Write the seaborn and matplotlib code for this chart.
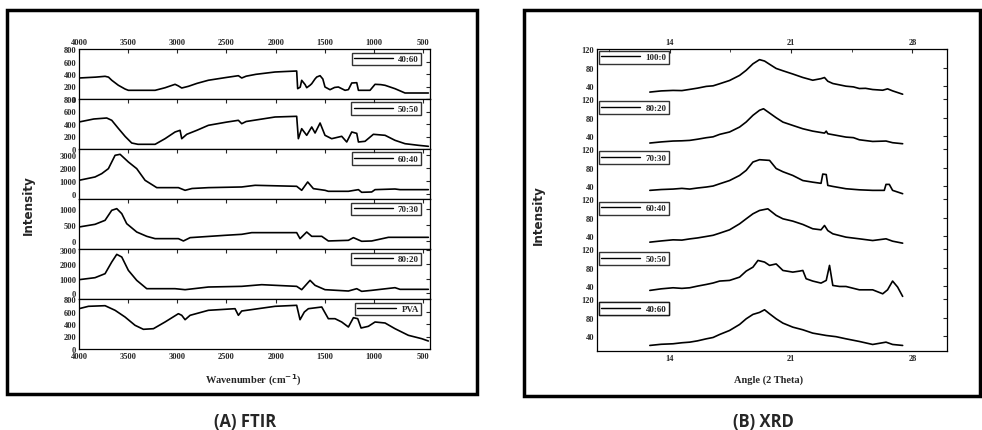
import matplotlib
matplotlib.use("Agg")
import matplotlib.pyplot as plt
import seaborn as sns
from matplotlib.patches import Rectangle
from matplotlib.lines import Line2D
from matplotlib.ticker import MultipleLocator, FixedLocator

sns.set_style("white")
plt.rcParams['font.family'] = ['Liberation Serif', 'DejaVu Serif']
plt.rcParams['font.weight'] = 'bold'

# ---- FTIR data (wavenumber cm-1, intensity) ----
ftir_names = ['40:60', '50:50', '60:40', '70:30', '80:20', 'PVA']

wn_4060 = [4000, 3830, 3735, 3700, 3667, 3600, 3532, 3498, 3226, 3125, 3023, 2990, 2955, 2887, 2800, 2684,
           2500, 2379, 2345, 2300, 2200, 2006, 1900, 1786, 1776, 1750, 1735, 1700, 1684, 1650, 1633, 1600,
           1582, 1548, 1520, 1498, 1447, 1400, 1362, 1294, 1260, 1226, 1175, 1158, 1040, 989, 930, 887,
           786, 684, 447]
int_4060 = [336, 350, 363, 350, 300, 220, 160, 139, 139, 180, 235, 210, 176, 203, 250, 300,
            345, 373, 336, 365, 395, 432, 440, 448, 165, 190, 299, 230, 181, 220, 245, 320,
            352, 373, 320, 192, 149, 185, 192, 139, 150, 256, 261, 139, 139, 235, 230, 219,
            165, 96, 96]

wn_5050 = [4000, 3850, 3718, 3667, 3600, 3530, 3464, 3400, 3226, 3125, 3023, 2972, 2955, 2904, 2800, 2684,
           2500, 2379, 2345, 2300, 2006, 1786, 1769, 1735, 1684, 1633, 1599, 1548, 1498, 1430, 1328, 1277,
           1226, 1175, 1158, 1091, 1006, 887, 786, 684, 548, 447]
int_5050 = [432, 480, 496, 459, 330, 200, 96, 75, 75, 165, 272, 299, 165, 235, 300, 379,
            430, 459, 405, 440, 512, 523, 165, 325, 219, 352, 256, 416, 219, 165, 203, 112,
            272, 250, 112, 123, 235, 219, 139, 85, 59, 43]

wn_6040 = [4000, 3837, 3769, 3701, 3633, 3582, 3498, 3413, 3328, 3209, 2989, 2921, 2850, 2684, 2345, 2209,
           1786, 1735, 1674, 1616, 1498, 1464, 1260, 1158, 1125, 1023, 989, 786, 735, 447]
int_6040 = [1058, 1318, 1578, 1968, 3008, 3086, 2488, 1968, 1058, 486, 486, 278, 420, 486, 538, 668,
            590, 278, 928, 408, 278, 200, 200, 330, 122, 148, 330, 380, 330, 330]

wn_7030 = [4000, 3837, 3735, 3667, 3616, 3565, 3515, 3413, 3311, 3226, 2989, 2938, 2870, 2515, 2345, 2243,
           1786, 1752, 1684, 1633, 1531, 1464, 1260, 1209, 1125, 1023, 853, 447]
int_7030 = [432, 515, 639, 949, 1001, 846, 536, 277, 143, 71, 71, -1, 102, 174, 205, 257,
            257, 71, 277, 143, 143, -1, 19, 102, -11, -1, 112, 112]

wn_8020 = [4000, 3837, 3735, 3667, 3616, 3565, 3498, 3413, 3311, 3023, 2921, 2684, 2345, 2142, 1786, 1735,
           1650, 1599, 1498, 1260, 1175, 1125, 1023, 786, 735, 447]
int_8020 = [933, 1071, 1347, 2152, 2681, 2497, 1577, 887, 312, 312, 243, 427, 473, 588, 473, 243,
            887, 542, 243, 151, 312, 128, 197, 381, 266, 266]

wn_pva = [4000, 3904, 3735, 3633, 3532, 3430, 3345, 3243, 3125, 2989, 2955, 2921, 2870, 2684, 2413, 2379,
          2345, 2006, 1786, 1752, 1708, 1667, 1531, 1464, 1396, 1328, 1260, 1209, 1165, 1131, 1057, 989,
          887, 786, 650, 514, 447]
int_pva = [645, 683, 693, 619, 512, 379, 315, 325, 432, 565, 539, 469, 539, 619, 645, 539,
           608, 683, 699, 469, 592, 645, 672, 485, 485, 432, 352, 501, 485, 336, 363, 432,
           416, 325, 219, 165, 128]

ftir_x = [wn_4060, wn_5050, wn_6040, wn_7030, wn_8020, wn_pva]
ftir_y = [int_4060, int_5050, int_6040, int_7030, int_8020, int_pva]
ftir_ylims = [(0, 800), (0, 800), (-400, 3500), (-250, 1300), (-400, 3050), (0, 800)]
ftir_yticks = [[0, 200, 400, 600, 800], [0, 200, 400, 600, 800], [0, 1000, 2000, 3000],
               [0, 500, 1000], [0, 1000, 2000, 3000], [0, 200, 400, 600, 800]]

# ---- XRD data (2 theta, intensity), top to bottom ----
xrd_names = ['100:0', '80:20', '70:30', '60:40', '50:50', '40:60']

th_1000 = [12.85, 13.5, 14.19, 14.7, 15.15, 15.6, 16.11, 16.5, 16.88, 17.45, 18.03, 18.41, 18.80, 19.18, 19.47,
           19.76, 20.14, 20.53, 21.10, 21.68, 22.25, 22.73, 22.93, 23.12, 23.41, 24.17, 24.6, 24.94, 25.3,
           25.71, 26.29, 26.57, 26.86, 27.44]
i_1000 = [27, 29.5, 30.6, 30.2, 32.8, 35.5, 39.3, 40.5, 45, 52, 63, 74, 88, 97, 94,
          87, 78, 73, 66, 58.5, 52.6, 56, 58.4, 50.4, 45.5, 39.7, 38.2, 34.7, 35.1,
          32.5, 31, 34, 29.6, 22.4]

th_8020 = [12.85, 13.5, 14.19, 14.7, 15.15, 15.6, 16.11, 16.5, 16.88, 17.45, 18.03, 18.41, 18.80, 19.18, 19.41,
           19.76, 20.14, 20.53, 21.10, 21.68, 22.25, 22.93, 23.03, 23.12, 24.17, 24.6, 24.94, 25.71, 26.48,
           26.86, 27.44]
i_8020 = [25, 27.4, 29.3, 29.8, 30.7, 33.2, 36.5, 38.4, 43.7, 48.8, 59.5, 70.4, 84.8, 95.7, 99,
          89.7, 79.6, 70.2, 63, 55.8, 50.7, 46.4, 50.7, 45, 37.8, 36.6, 32, 28.4, 29.3,
          25.7, 23.5]

th_7030 = [12.85, 13.5, 14.19, 14.7, 15.15, 15.6, 16.11, 16.5, 16.88, 17.45, 18.03, 18.41, 18.80, 19.18, 19.76,
           20.14, 20.53, 21.10, 21.68, 22.25, 22.73, 22.83, 23.03, 23.12, 23.41, 24.17, 24.94, 25.71,
           26.38, 26.48, 26.67, 26.86, 27.44]
i_7030 = [30.8, 32.6, 33.6, 35.1, 33.6, 35.9, 38, 40.2, 45, 52, 63, 74, 92, 97, 95.5,
          78, 71, 63, 52, 48.5, 46, 66, 65, 41.5, 39.3, 34.3, 32, 30.8,
          30.8, 43.7, 43.7, 30.8, 23.6]

th_6040 = [12.85, 13.5, 14.19, 14.7, 15.15, 15.6, 16.11, 16.5, 16.88, 17.45, 18.03, 18.41, 18.80, 19.18, 19.66,
           20.14, 20.53, 21.10, 21.68, 22.25, 22.73, 22.93, 23.12, 23.41, 24.17, 24.94, 25.71, 26.48,
           26.86, 27.44]
i_6040 = [27, 29.6, 32, 31.4, 34, 36.1, 39.3, 41.8, 46.4, 53.6, 66.6, 77.4, 88.2, 95.4, 99,
          84.8, 77.4, 72.4, 65.2, 55.9, 53.6, 63, 52, 45, 37.8, 34.2, 30.5, 34.2,
          29.1, 24.8]

th_5050 = [12.85, 13.5, 14.19, 14.7, 15.15, 15.6, 16.11, 16.5, 16.88, 17.45, 18.03, 18.41, 18.80, 19.09, 19.47,
           19.76, 20.14, 20.53, 21.10, 21.49, 21.68, 21.87, 22.25, 22.73, 23.03, 23.22, 23.41, 23.80,
           24.17, 24.94, 25.71, 26.29, 26.57, 26.86, 27.15, 27.44]
i_5050 = [30.8, 34.2, 36.5, 35.2, 36.5, 40.1, 43.7, 46.8, 51, 52.4, 59.5, 72.5, 81, 95.5, 92,
          84.8, 88, 73.9, 70.3, 72.5, 73.9, 56, 51, 46.6, 52.4, 84.8, 41.5, 39.3,
          39.3, 32.1, 32.1, 23.5, 32.1, 51, 38, 17.9]

th_4060 = [12.85, 13.5, 14.19, 14.7, 15.15, 15.6, 16.11, 16.5, 16.88, 17.45, 18.03, 18.41, 18.80, 19.18, 19.47,
           19.76, 20.14, 20.53, 21.10, 21.68, 22.25, 23.03, 23.6, 24.17, 24.94, 25.71, 26.48, 26.86, 27.44]
i_4060 = [20, 22.5, 23.6, 25.8, 27.1, 29.9, 34.3, 37.2, 43.7, 52.3, 65.3, 77.5, 87, 91.3, 97,
          88.3, 77.5, 68.2, 59.5, 53.8, 46.6, 41.5, 38.9, 34.3, 28.6, 22.1, 27.1, 22.1, 20]

xrd_x = [th_1000, th_8020, th_7030, th_6040, th_5050, th_4060]
xrd_y = [i_1000, i_8020, i_7030, i_6040, i_5050, i_4060]
xrd_step = 108  # vertical offset between stacked patterns
xrd_tick_vals = [40, 80, 120]

W, H = 982, 431
fig = plt.figure(figsize=(W / 100, H / 100), dpi=100)


def fx(px):
    return px / W


def fy(py):
    return 1 - py / H


tick_kw = dict(direction='in', length=3, width=0.8, labelsize=6, top=True, right=True, pad=2)
leg_kw = dict(frameon=True, fancybox=False, edgecolor='black', fontsize=6.5, handlelength=4.3,
              borderpad=0.25, handletextpad=0.6, borderaxespad=0)
lw = 1.2

# ---- Panel A: FTIR stacked subplots ----
for i in range(6):
    ax = fig.add_axes([fx(79), fy(100 + 50 * i), fx(430) - fx(79), 50 / H])
    sns.lineplot(x=ftir_x[i], y=ftir_y[i], ax=ax, color='black', linewidth=lw,
                 sort=False, estimator=None)
    ax.set_xlim(4000, 430)
    ax.set_ylim(*ftir_ylims[i])
    ax.xaxis.set_major_locator(MultipleLocator(500))
    ax.yaxis.set_major_locator(FixedLocator(ftir_yticks[i]))
    ax.tick_params(axis='both', **tick_kw)
    ax.tick_params(axis='x', labeltop=(i == 0), labelbottom=(i == 5))
    for sp in ax.spines.values():
        sp.set_color('black')
        sp.set_linewidth(0.9)
    ax.set_xlabel('')
    ax.set_ylabel('')
    handle = Line2D([0], [0], color='black', lw=1.0)
    ax.legend([handle], [ftir_names[i]], loc='upper right', bbox_to_anchor=(0.975, 0.93), **leg_kw)

# ---- Panel B: XRD offset stack ----
axb = fig.add_axes([fx(597), fy(352), fx(947) - fx(597), (352 - 50) / H])
for k in range(6):
    off = (5 - k) * xrd_step
    sns.lineplot(x=xrd_x[k], y=[v + off for v in xrd_y[k]], ax=axb, color='black', linewidth=lw,
                 sort=False, estimator=None)
axb.set_xlim(9.8, 30)
axb.set_ylim(8, 120 + 5 * xrd_step)
axb.xaxis.set_major_locator(FixedLocator([14, 21, 28]))
axb.xaxis.set_minor_locator(FixedLocator([10.5, 17.5, 24.5]))
ypos = [v + j * xrd_step for j in range(6) for v in xrd_tick_vals]
axb.yaxis.set_major_locator(FixedLocator(ypos))
axb.set_yticklabels([str(v) for j in range(6) for v in xrd_tick_vals])
axb.tick_params(axis='both', **tick_kw)
axb.tick_params(axis='x', which='minor', direction='in', length=2, top=True)
axb.tick_params(axis='x', labeltop=True, labelbottom=True)
for sp in axb.spines.values():
    sp.set_color('black')
    sp.set_linewidth(0.9)
axb.set_xlabel('')
axb.set_ylabel('')
for k in range(6):
    handle = Line2D([0], [0], color='black', lw=1.0)
    leg = axb.legend([handle], [xrd_names[k]], loc='upper left',
                     bbox_to_anchor=(0.006, 1 - k / 6 - 0.006), **leg_kw)
    axb.add_artist(leg)

# ---- labels, frames, captions ----
fig.text(fx(253), fy(380), 'Wavenumber (cm$^{-1}$)', ha='center', va='center', fontsize=7.5,
         fontweight='bold')
fig.text(fx(769), fy(380), 'Angle (2 Theta)', ha='center', va='center', fontsize=7.5,
         fontweight='bold')
narrow = ['Liberation Sans Narrow', 'DejaVu Sans']
fig.text(fx(28), fy(205), 'Intensity', rotation=90, ha='center', va='center', fontsize=9.5,
         fontweight='bold', family=narrow, fontstretch='condensed')
fig.text(fx(538), fy(215), 'Intensity', rotation=90, ha='center', va='center', fontsize=9.5,
         fontweight='bold', family=narrow, fontstretch='condensed')

fig.add_artist(Rectangle((fx(7), fy(395)), fx(477) - fx(7), (395 - 11) / H, transform=fig.transFigure,
                         fill=False, lw=2.5, ec='black'))
fig.add_artist(Rectangle((fx(524), fy(397)), fx(980) - fx(524), (397 - 11) / H, transform=fig.transFigure,
                         fill=False, lw=2.5, ec='black'))

fig.text(fx(245), fy(422), '(A) FTIR', ha='center', va='center', fontsize=12, fontweight='bold',
         family=['Open Sans', 'DejaVu Sans'])
fig.text(fx(763), fy(422), '(B) XRD', ha='center', va='center', fontsize=12, fontweight='bold',
         family=['Open Sans', 'DejaVu Sans'])

fig.savefig('out.png', dpi=100)
